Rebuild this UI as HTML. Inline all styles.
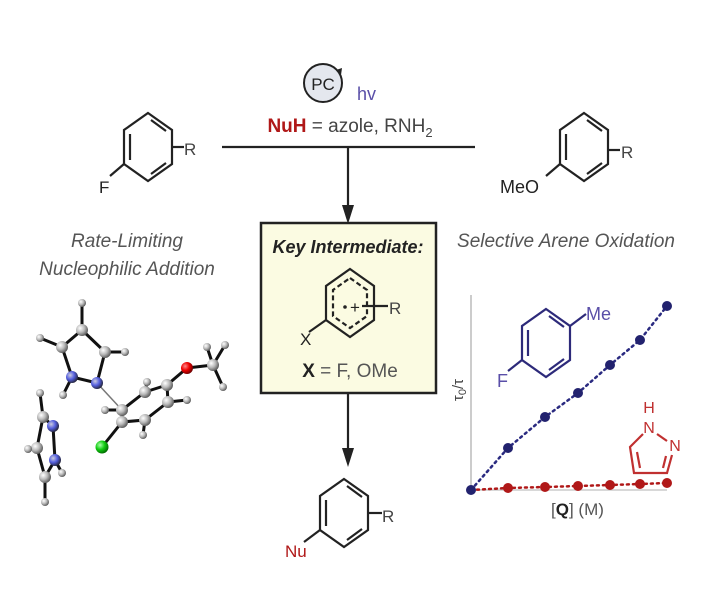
<!DOCTYPE html>
<html><head><meta charset="utf-8"><style>
html,body{margin:0;padding:0;background:#fff;}
svg{display:block;}
text{font-family:"Liberation Sans",sans-serif;}
</style></head><body>
<svg width="708" height="613" viewBox="0 0 708 613" xmlns="http://www.w3.org/2000/svg">
<defs>
<radialGradient id="gC" cx="35%" cy="35%" r="70%"><stop offset="0" stop-color="#fff"/><stop offset="0.5" stop-color="#bbb"/><stop offset="1" stop-color="#555"/></radialGradient>
<radialGradient id="gN" cx="35%" cy="35%" r="70%"><stop offset="0" stop-color="#ccd"/><stop offset="0.5" stop-color="#5560e0"/><stop offset="1" stop-color="#223"/></radialGradient>
<radialGradient id="gO" cx="35%" cy="35%" r="70%"><stop offset="0" stop-color="#f88"/><stop offset="0.5" stop-color="#e00"/><stop offset="1" stop-color="#600"/></radialGradient>
<radialGradient id="gCl" cx="35%" cy="35%" r="70%"><stop offset="0" stop-color="#afa"/><stop offset="0.5" stop-color="#1c1"/><stop offset="1" stop-color="#060"/></radialGradient>
<g id="ring" fill="none" stroke-width="2.2">
<path d="M0,-34 L24,-17 L24,17 L0,34 L-24,17 L-24,-17 Z"/>
<path d="M-18,-13 L-18,13 M3,-27 L18,-16 M18,16 L3,27"/>
</g>
</defs>

<!-- top reagents -->
<circle cx="323" cy="83" r="19" fill="#e4e7ee" stroke="#222" stroke-width="2"/>
<path d="M336,70 l6,-2 l-1,7 z" fill="#222"/>
<text x="323" y="90" font-size="17" text-anchor="middle" fill="#222">PC</text>
<text x="357" y="100" font-size="18" fill="#5a4fa8">hv</text>
<text x="350" y="132" font-size="19" text-anchor="middle" fill="#444"><tspan fill="#b01818" font-weight="bold">NuH</tspan> = azole, RNH<tspan font-size="13" dy="5">2</tspan></text>
<line x1="222" y1="147" x2="475" y2="147" stroke="#222" stroke-width="2.2"/>
<line x1="348" y1="147" x2="348" y2="212" stroke="#222" stroke-width="2.2"/>
<path d="M342,205 L354,205 L348,224 Z" fill="#222"/>

<!-- F arene -->
<g stroke="#222"><use href="#ring" x="148" y="147"/>
<line x1="124" y1="164" x2="110" y2="176" stroke-width="2.2"/>
<line x1="172" y1="147" x2="184" y2="147" stroke-width="2.2"/></g>
<text x="99" y="193" font-size="17" fill="#222">F</text>
<text x="184" y="155" font-size="17" fill="#444">R</text>

<!-- MeO arene -->
<g stroke="#222"><use href="#ring" x="584" y="147"/>
<line x1="560" y1="164" x2="546" y2="176" stroke-width="2.2"/>
<line x1="608" y1="150" x2="620" y2="150" stroke-width="2.2"/></g>
<text x="500" y="193" font-size="18" fill="#222">MeO</text>
<text x="621" y="158" font-size="17" fill="#444">R</text>

<!-- italic captions -->
<text x="127" y="247" font-size="19" font-style="italic" text-anchor="middle" fill="#555">Rate-Limiting</text>
<text x="127" y="275" font-size="19" font-style="italic" text-anchor="middle" fill="#555">Nucleophilic Addition</text>
<text x="566" y="247" font-size="19" font-style="italic" text-anchor="middle" fill="#555">Selective Arene Oxidation</text>

<!-- box -->
<rect x="261" y="223" width="175" height="170" fill="#fbfbe2" stroke="#222" stroke-width="2.5"/>
<text x="348" y="253" font-size="18" font-style="italic" font-weight="bold" text-anchor="middle" fill="#222">Key Intermediate:</text>
<g stroke="#222" fill="none" stroke-width="2.2">
<path d="M350,269 L374,286 L374,320 L350,337 L326,320 L326,286 Z"/>
<path d="M350,278 L367,290 L367,316 L350,328 L333,316 L333,290 Z" stroke-dasharray="5 3"/>
<line x1="326" y1="320" x2="309" y2="332"/>
<line x1="362" y1="306" x2="388" y2="306"/>
</g>
<circle cx="345" cy="307" r="1.8" fill="#222"/>
<text x="355" y="313" font-size="17" text-anchor="middle" fill="#222">+</text>
<text x="389" y="314" font-size="17" fill="#444">R</text>
<text x="300" y="345" font-size="17" fill="#222">X</text>
<text x="350" y="377" font-size="19" text-anchor="middle" fill="#555"><tspan fill="#222" font-weight="bold">X</tspan> = F, OMe</text>

<line x1="348" y1="393" x2="348" y2="455" stroke="#222" stroke-width="2.2"/>
<path d="M342,448 L354,448 L348,467 Z" fill="#222"/>

<!-- Nu product -->
<g stroke="#222"><use href="#ring" x="344" y="513"/>
<line x1="320" y1="530" x2="304" y2="542" stroke-width="2.2"/>
<line x1="368" y1="513" x2="382" y2="513" stroke-width="2.2"/></g>
<text x="285" y="557" font-size="17" fill="#b01818">Nu</text>
<text x="382" y="522" font-size="17" fill="#444">R</text>

<!-- graph -->
<line x1="471" y1="295" x2="471" y2="490" stroke="#bbb" stroke-width="1.5"/>
<line x1="471" y1="490" x2="667" y2="490" stroke="#ccc" stroke-width="1.5"/>
<text transform="translate(463,390) rotate(-90)" font-size="15" text-anchor="middle" fill="#444">τ<tspan font-size="11" dy="3">0</tspan><tspan dy="-3">/τ</tspan></text>
<text x="551" y="515" font-size="17" fill="#555">[<tspan font-weight="bold" fill="#222">Q</tspan>] (M)</text>
<polyline points="471,490 508,448 545,417 578,393 610,365 640,340 667,306" fill="none" stroke="#2a2a80" stroke-width="2.5" stroke-dasharray="2 4" stroke-linecap="round"/>
<polyline points="471,490 508,488 545,487 578,486 610,485 640,484 667,483" fill="none" stroke="#b01818" stroke-width="2.5" stroke-dasharray="2 4" stroke-linecap="round"/>
<g fill="#b01818"><circle cx="508" cy="488" r="5"/><circle cx="545" cy="487" r="5"/><circle cx="578" cy="486" r="5"/><circle cx="610" cy="485" r="5"/><circle cx="640" cy="484" r="5"/><circle cx="667" cy="483" r="5"/></g>
<g fill="#22226e"><circle cx="471" cy="490" r="5"/><circle cx="508" cy="448" r="5"/><circle cx="545" cy="417" r="5"/><circle cx="578" cy="393" r="5"/><circle cx="610" cy="365" r="5"/><circle cx="640" cy="340" r="5"/><circle cx="667" cy="306" r="5"/></g>
<!-- toluene -->
<g stroke="#2d2a7a"><use href="#ring" x="546" y="343"/>
<line x1="522" y1="360" x2="508" y2="371" stroke-width="2.2"/>
<line x1="570" y1="326" x2="586" y2="314" stroke-width="2.2"/></g>
<text x="497" y="387" font-size="18" fill="#5a4fa8">F</text>
<text x="586" y="320" font-size="18" fill="#5a4fa8">Me</text>
<!-- pyrazole -->
<text x="649" y="413" font-size="16" text-anchor="middle" fill="#c03030">H</text>
<text x="649" y="433" font-size="16" text-anchor="middle" fill="#c03030">N</text>
<text x="675" y="451" font-size="16" text-anchor="middle" fill="#c03030">N</text>
<g stroke="#c03030" stroke-width="2.2" fill="none">
<path d="M643,434 L630,447 L634,473 L667,473 L672,455"/>
<path d="M657,434 L667,441"/>
<path d="M637,452 L640,468 M663,468 L666,456"/>
</g>

<!-- 3D molecule -->
<g stroke="#111" stroke-width="3" stroke-linecap="round">
<line x1="82" y1="303" x2="82" y2="330"/><line x1="82" y1="330" x2="62" y2="347"/><line x1="82" y1="330" x2="105" y2="352"/>
<line x1="62" y1="347" x2="40" y2="338"/><line x1="105" y1="352" x2="125" y2="352"/>
<line x1="62" y1="347" x2="72" y2="377"/><line x1="105" y1="352" x2="97" y2="383"/>
<line x1="72" y1="377" x2="97" y2="383"/><line x1="72" y1="377" x2="63" y2="395"/>
<line x1="122" y1="410" x2="145" y2="392"/><line x1="145" y1="392" x2="167" y2="385"/><line x1="167" y1="385" x2="168" y2="402"/>
<line x1="168" y1="402" x2="145" y2="420"/><line x1="145" y1="420" x2="122" y2="422"/><line x1="122" y1="422" x2="122" y2="410"/>
<line x1="122" y1="410" x2="105" y2="410"/><line x1="122" y1="422" x2="102" y2="447"/>
<line x1="145" y1="392" x2="147" y2="382"/><line x1="168" y1="402" x2="187" y2="400"/><line x1="145" y1="420" x2="143" y2="435"/>
<line x1="167" y1="385" x2="187" y2="368"/><line x1="187" y1="368" x2="213" y2="365"/>
<line x1="213" y1="365" x2="207" y2="347"/><line x1="213" y1="365" x2="225" y2="345"/><line x1="213" y1="365" x2="223" y2="387"/>
<line x1="40" y1="393" x2="43" y2="417"/><line x1="43" y1="417" x2="53" y2="426"/><line x1="43" y1="417" x2="37" y2="448"/>
<line x1="53" y1="426" x2="55" y2="460"/><line x1="37" y1="448" x2="28" y2="449"/><line x1="37" y1="448" x2="45" y2="477"/>
<line x1="55" y1="460" x2="45" y2="477"/><line x1="55" y1="460" x2="62" y2="473"/><line x1="45" y1="477" x2="45" y2="502"/>
</g>
<line x1="97" y1="383" x2="122" y2="410" stroke="#777" stroke-width="1.5"/>
<g fill="url(#gC)">
<circle cx="82" cy="330" r="6"/><circle cx="62" cy="347" r="6"/><circle cx="105" cy="352" r="6"/>
<circle cx="122" cy="410" r="6"/><circle cx="145" cy="392" r="6"/><circle cx="167" cy="385" r="6"/><circle cx="168" cy="402" r="6"/><circle cx="145" cy="420" r="6"/><circle cx="122" cy="422" r="6"/>
<circle cx="213" cy="365" r="6"/><circle cx="43" cy="417" r="6"/><circle cx="37" cy="448" r="6"/><circle cx="45" cy="477" r="6"/>
</g>
<g fill="url(#gC)">
<circle cx="82" cy="303" r="4"/><circle cx="40" cy="338" r="4"/><circle cx="125" cy="352" r="4"/><circle cx="63" cy="395" r="4"/>
<circle cx="105" cy="410" r="4"/><circle cx="147" cy="382" r="4"/><circle cx="187" cy="400" r="4"/><circle cx="143" cy="435" r="4"/>
<circle cx="207" cy="347" r="4"/><circle cx="225" cy="345" r="4"/><circle cx="223" cy="387" r="4"/>
<circle cx="40" cy="393" r="4"/><circle cx="28" cy="449" r="4"/><circle cx="62" cy="473" r="4"/><circle cx="45" cy="502" r="4"/>
</g>
<g fill="url(#gN)"><circle cx="72" cy="377" r="6"/><circle cx="97" cy="383" r="6"/><circle cx="53" cy="426" r="6"/><circle cx="55" cy="460" r="6"/></g>
<circle cx="187" cy="368" r="6" fill="url(#gO)"/>
<circle cx="102" cy="447" r="6.5" fill="url(#gCl)"/>
</svg>
</body></html>
